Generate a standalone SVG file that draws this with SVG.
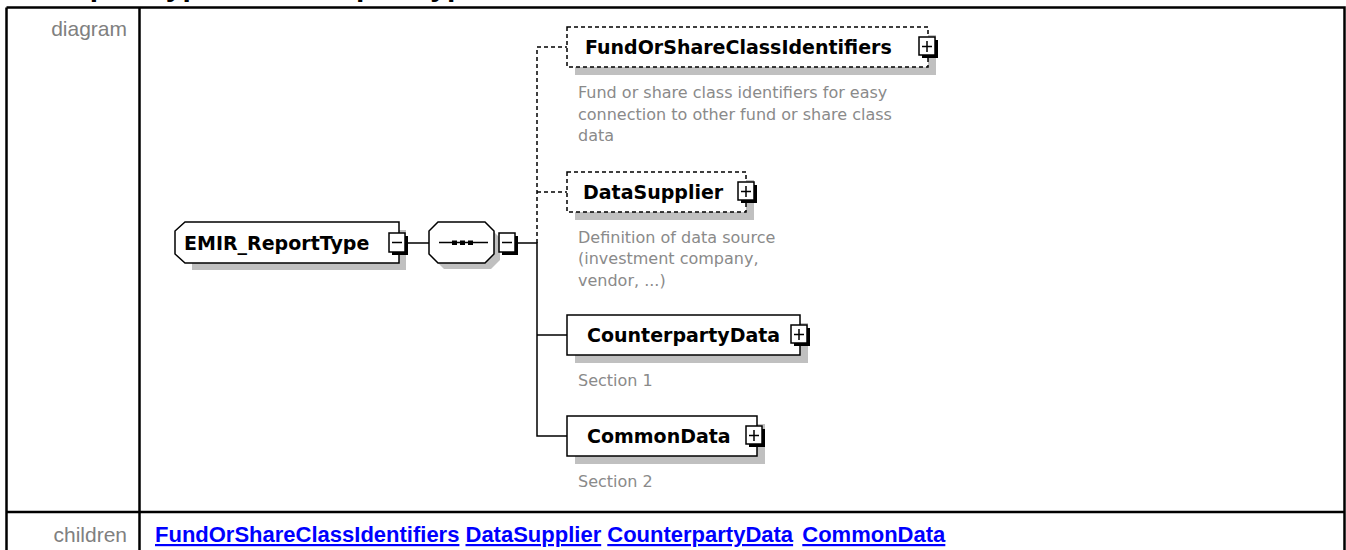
<svg xmlns="http://www.w3.org/2000/svg" width="1346" height="550" viewBox="0 0 1346 550">
<style>
.title{font-family:"Liberation Sans",Arial,sans-serif;font-weight:bold;font-size:30px;fill:#000}
.lbl{font-family:"Liberation Sans",Arial,sans-serif;font-size:21px;fill:#808080}
.link{font-family:"Liberation Sans",Arial,sans-serif;font-weight:bold;font-size:22px;fill:#0000ff;text-decoration:underline}
.grid{stroke:#000;stroke-width:2.5;fill:none}
.name{font-family:"DejaVu Sans",Verdana,sans-serif;font-weight:bold;font-size:19px;fill:#000}
.desc{font-family:"DejaVu Sans",Verdana,sans-serif;font-size:16px;fill:#8a8a8a}
.box{fill:#fff;stroke:#000;stroke-width:1.5}
.opt{fill:#fff;stroke:#000;stroke-width:1.5;stroke-dasharray:4 3}
.shadow{fill:#c0c0c0}
.conn{stroke:#000;stroke-width:1.5;fill:none}
.dash{stroke:#000;stroke-width:1.5;fill:none;stroke-dasharray:4 3}
.pm{fill:#fff;stroke:#000;stroke-width:1.5}
.pms{fill:#000}
.sign{stroke:#000;stroke-width:1.5}
</style>
<rect width="1346" height="550" fill="#fff"/>
<text class="title" x="28" y="-4">complexType EMIR_ReportType</text>
<g id="table">
<path class="grid" d="M6.5 7.5H1344.5V552M6.5 7.5V552M139.5 7.5V552M6.5 512H1344.5"/>
<text class="lbl" x="127" y="36" text-anchor="end">diagram</text>
<text class="lbl" x="127" y="542" text-anchor="end">children</text>
</g>
<g id="children-links">
<text class="link" x="155" y="542">FundOrShareClassIdentifiers</text>
<text class="link" x="465.5" y="542">DataSupplier</text>
<text class="link" x="607.3" y="542">CounterpartyData</text>
<text class="link" x="802.3" y="542">CommonData</text>
</g>
<g id="connectors">
<path class="conn" d="M405 243H429M494 243H499M515 243H537V436H567M537 335H567"/>
<path class="dash" d="M537 243V47H567M537 192H567"/>
</g>
<g id="node-EMIR_ReportType">
<path class="shadow" d="M192 229L201 230H406V270H192Z"/>
<path class="box" d="M185 222H399V263H185L175 254V231Z"/>
<text class="name" x="184" y="250">EMIR_ReportType</text>
<rect class="pms" x="392" y="236" width="16" height="19"/>
<rect class="pm" x="389" y="233" width="16" height="19"/>
<path class="sign" d="M392 242.5H402"/>
</g>
<g id="node-sequence">
<path class="shadow" d="M444 229H491L500 238V260L491 269H444L435 260V238Z"/>
<path class="box" d="M438 222H485L494 231V254L485 263H438L429 254V231Z"/>
<path class="conn" d="M439 242.5H488"/>
<rect x="452" y="240.5" width="5" height="4.5" fill="#000"/>
<rect x="460" y="240.5" width="5" height="4.5" fill="#000"/>
<rect x="468" y="240.5" width="5" height="4.5" fill="#000"/>
<rect class="pms" x="502" y="236" width="16" height="19"/>
<rect class="pm" x="499" y="233" width="16" height="19"/>
<path class="sign" d="M502 242.5H512"/>
</g>
<g id="node-FundOrShareClassIdentifiers">
<rect class="shadow" x="575" y="35" width="361" height="40"/>
<rect class="opt" x="567" y="27" width="361" height="40"/>
<text class="name" x="585" y="54">FundOrShareClassIdentifiers</text>
<rect class="pms" x="922" y="40" width="16" height="18"/>
<rect class="pm" x="919" y="37" width="16" height="18"/>
<path class="sign" d="M922 46.5H932M927 41V52"/>
<text class="desc" x="578" y="98">Fund or share class identifiers for easy</text>
<text class="desc" x="578" y="119.7">connection to other fund or share class</text>
<text class="desc" x="578" y="141.4">data</text>
</g>
<g id="node-DataSupplier">
<rect class="shadow" x="575" y="180" width="179" height="40"/>
<rect class="opt" x="567" y="172" width="179" height="40"/>
<text class="name" x="583" y="199">DataSupplier</text>
<rect class="pms" x="741" y="185" width="16" height="18"/>
<rect class="pm" x="738" y="182" width="16" height="18"/>
<path class="sign" d="M741 191.5H751M746 186V197"/>
<text class="desc" x="578" y="242.7">Definition of data source</text>
<text class="desc" x="578" y="264.4">(investment company,</text>
<text class="desc" x="578" y="286.1">vendor, ...)</text>
</g>
<g id="node-CounterpartyData">
<rect class="shadow" x="575" y="323" width="233" height="40"/>
<rect class="box" x="567" y="315" width="233" height="40"/>
<text class="name" x="587" y="342">CounterpartyData</text>
<rect class="pms" x="794" y="328" width="16" height="18"/>
<rect class="pm" x="791" y="325" width="16" height="18"/>
<path class="sign" d="M794 334.5H804M799 329V340"/>
<text class="desc" x="578" y="386">Section 1</text>
</g>
<g id="node-CommonData">
<rect class="shadow" x="575" y="424" width="190" height="40"/>
<rect class="box" x="567" y="416" width="190" height="40"/>
<text class="name" x="587" y="443">CommonData</text>
<rect class="pms" x="749" y="429" width="16" height="18"/>
<rect class="pm" x="746" y="426" width="16" height="18"/>
<path class="sign" d="M749 435.5H759M754 430V441"/>
<text class="desc" x="578" y="486.7">Section 2</text>
</g>
</svg>
